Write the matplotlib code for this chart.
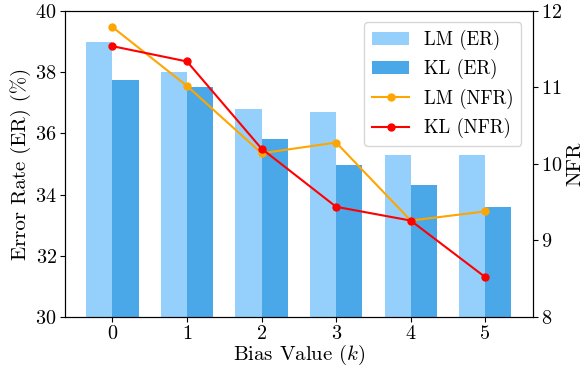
import numpy as np
import matplotlib
matplotlib.use('Agg')
import matplotlib.pyplot as plt

plt.rcParams['font.family'] = 'serif'
plt.rcParams['font.serif'] = ['cmr10']
plt.rcParams['mathtext.fontset'] = 'cm'
plt.rcParams['axes.formatter.use_mathtext'] = True

k_values = [0, 1, 2, 3, 4, 5]
lm_er = [39.0, 38.0, 36.8, 36.7, 35.3, 35.3]
kl_er = [37.75, 37.5, 35.8, 34.95, 34.3, 33.6]
lm_nfr = [11.79, 11.02, 10.14, 10.28, 9.26, 9.38]
kl_nfr = [11.54, 11.34, 10.20, 9.44, 9.26, 8.52]

x = np.arange(len(k_values))
width = 0.35

fig, ax = plt.subplots(figsize=(5.86, 3.66), dpi=100)
b1 = ax.bar(x - width / 2, lm_er, width, color='#95d0fc', label='LM (ER)')
b2 = ax.bar(x + width / 2, kl_er, width, color='#4ba8e8', label='KL (ER)')
ax.set_ylim(30, 40)
ax.set_xticks(x)
ax.set_xticklabels([str(k) for k in k_values])
ax.set_xlabel('Bias Value ($k$)', fontsize=15, labelpad=0)
ax.set_ylabel('Error Rate (ER) (%)', fontsize=15, labelpad=3)
ax.tick_params(labelsize=14.5, pad=2.5)

ax2 = ax.twinx()
l1, = ax2.plot(x, lm_nfr, color='orange', marker='o', markersize=5, lw=1.5, label='LM (NFR)')
l2, = ax2.plot(x, kl_nfr, color='red', marker='o', markersize=5, lw=1.5, label='KL (NFR)')
ax2.set_ylim(8, 12)
ax2.set_yticks([8, 9, 10, 11, 12])
ax2.set_ylabel('NFR', fontsize=15, labelpad=3)
ax2.tick_params(labelsize=14.5, pad=2.5)

ax2.legend([b1, b2, l1, l2], ['LM (ER)', 'KL (ER)', 'LM (NFR)', 'KL (NFR)'],
           loc='upper right', fontsize=13.5, borderaxespad=0.6)

fig.subplots_adjust(left=0.111, right=0.909, top=0.970, bottom=0.134)
fig.savefig('out.png', dpi=100)
